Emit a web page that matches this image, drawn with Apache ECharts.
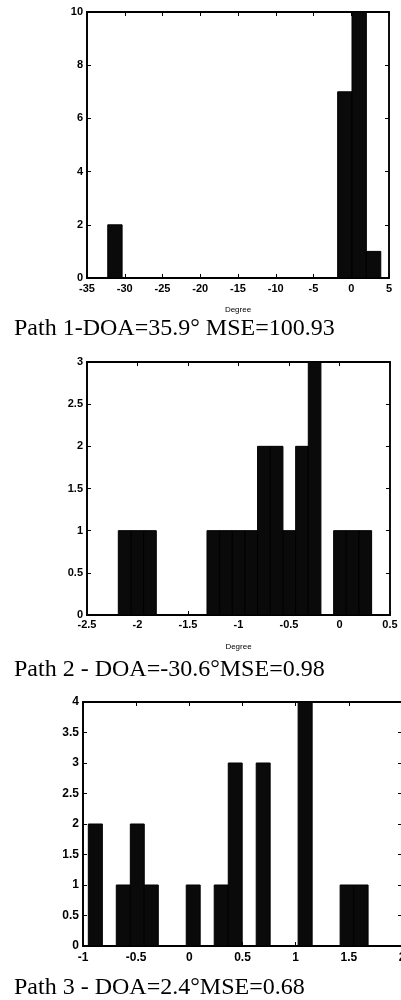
<!DOCTYPE html>
<html>
<head>
<meta charset="utf-8">
<script src="https://cdn.jsdelivr.net/npm/echarts@6/dist/echarts.min.js"></script>
<style>
html,body{margin:0;padding:0;background:#fff;overflow:hidden;}
#c{width:401px;height:1000px;}
</style>
</head>
<body>
<div id="c"></div>
<script>
// Histogram 1 (Path 1)
var edges1 = [-32.25,-30.35,-28.44,-26.54,-24.64,-22.73,-20.83,-18.93,-17.03,-15.12,-13.22,-11.32,-9.41,-7.51,-5.61,-3.71,-1.80,0.10,2.00,3.91];
var counts1 = [2,0,0,0,0,0,0,0,0,0,0,0,0,0,0,0,7,10,1];
// Histogram 2 (Path 2)
var edges2 = [-2.19,-2.065,-1.939,-1.814,-1.688,-1.563,-1.438,-1.312,-1.187,-1.061,-0.936,-0.811,-0.685,-0.560,-0.434,-0.309,-0.184,-0.058,0.067,0.193,0.318];
var counts2 = [1,1,1,0,0,0,0,1,1,1,1,2,2,1,2,3,0,1,1,1];
// Histogram 3 (Path 3)
var edges3 = [-0.95,-0.818,-0.687,-0.555,-0.424,-0.292,-0.161,-0.029,0.102,0.234,0.366,0.497,0.629,0.760,0.892,1.023,1.155,1.286,1.418,1.550,1.681];
var counts3 = [2,0,1,2,1,0,0,1,0,1,3,0,3,0,0,4,0,0,1,1];

var titles = ['Path 1-DOA=35.9\u00b0 MSE=100.93', 'Path 2 - DOA=-30.6\u00b0MSE=0.98', 'Path 3 - DOA=2.4\u00b0MSE=0.68'];
var xRanges = [[-35,5,5],[-2.5,0.5,0.5],[-1,2,0.5]];
var yRanges = [[0,10,2],[0,3,0.5],[0,4,0.5]];
var xNames = ['Degree','Degree',''];

var grids = [
  {left:87, top:12, width:302, height:266},
  {left:87, top:362, width:303, height:253},
  {left:83, top:702, width:319, height:244}
];
var labelSizes = [11,11,12];
var xMargins = [5,4,6];

function histData(edges, counts){
  var d = [];
  for (var i=0;i<counts.length;i++){ d.push([edges[i], edges[i+1], counts[i]]); }
  return d;
}
var allData = [histData(edges1,counts1), histData(edges2,counts2), histData(edges3,counts3)];

var xAxes=[], yAxes=[], series=[], gridOpts=[];
for (var g=0; g<3; g++){
  gridOpts.push({left:grids[g].left, top:grids[g].top, width:grids[g].width, height:grids[g].height,
    outerBoundsMode:'none', containLabel:false,
    show:true, borderColor:'#000', borderWidth:1.5, backgroundColor:'#fff'});
  var fs = labelSizes[g];
  xAxes.push({type:'value', gridIndex:g, min:xRanges[g][0], max:xRanges[g][1], interval:xRanges[g][2],
    position:'bottom',
    name:xNames[g], nameLocation:'middle', nameGap:28,
    nameTextStyle:{fontFamily:'Liberation Sans', fontSize:8, color:'#000'},
    axisLine:{show:true, onZero:false, lineStyle:{color:'#000', width:1.8}},
    axisTick:{show:true, inside:true, length:4, lineStyle:{color:'#000'}},
    axisLabel:{show:true, color:'#000', fontFamily:'Liberation Sans', fontWeight:'bold', fontSize:fs, margin:xMargins[g], hideOverlap:false},
    splitLine:{show:false}});
  xAxes.push({type:'value', gridIndex:g, min:xRanges[g][0], max:xRanges[g][1], interval:xRanges[g][2],
    position:'top',
    axisLine:{show:true, onZero:false, lineStyle:{color:'#000', width:1.8}},
    axisTick:{show:true, inside:true, length:4, lineStyle:{color:'#000'}},
    axisLabel:{show:false}, splitLine:{show:false}});
  yAxes.push({type:'value', gridIndex:g, min:yRanges[g][0], max:yRanges[g][1], interval:yRanges[g][2],
    position:'left',
    axisLine:{show:true, onZero:false, lineStyle:{color:'#000', width:1.8}},
    axisTick:{show:true, inside:true, length:4, lineStyle:{color:'#000'}},
    axisLabel:{show:true, color:'#000', fontFamily:'Liberation Sans', fontWeight:'bold', fontSize:fs, margin:4},
    splitLine:{show:false}});
  yAxes.push({type:'value', gridIndex:g, min:yRanges[g][0], max:yRanges[g][1], interval:yRanges[g][2],
    position:'right',
    axisLine:{show:true, onZero:false, lineStyle:{color:'#000', width:1.5}},
    axisTick:{show:true, inside:true, length:4, lineStyle:{color:'#000'}},
    axisLabel:{show:false}, splitLine:{show:false}});
  series.push({
    type:'custom', xAxisIndex:2*g, yAxisIndex:2*g,
    data: allData[g],
    encode:{x:[0,1], y:2},
    renderItem: function(params, api){
      var p0 = api.coord([api.value(0), 0]);
      var p1 = api.coord([api.value(1), api.value(2)]);
      var h = p0[1]-p1[1];
      return {type:'rect', shape:{x:p0[0], y:p1[1], width:p1[0]-p0[0], height:h},
        style:{fill:'#0a0a0a', stroke:'#000', lineWidth: h>0 ? 1 : 1.5}};
    },
    clip:true, silent:true, z:3
  });
}

var titleStyle = {fontFamily:'Liberation Serif', fontSize:24, fontWeight:'normal', color:'#000'};
var chart = echarts.init(document.getElementById('c'), null, {renderer:'canvas'});
chart.setOption({
  animation:false,
  backgroundColor:'#fff',
  title:[
    {text:titles[0], left:9, top:312, textStyle:titleStyle},
    {text:titles[1], left:9, top:653, textStyle:titleStyle},
    {text:titles[2], left:9, top:971, textStyle:titleStyle}
  ],
  grid:gridOpts,
  xAxis:xAxes,
  yAxis:yAxes,
  series:series
});
</script>
</body>
</html>
